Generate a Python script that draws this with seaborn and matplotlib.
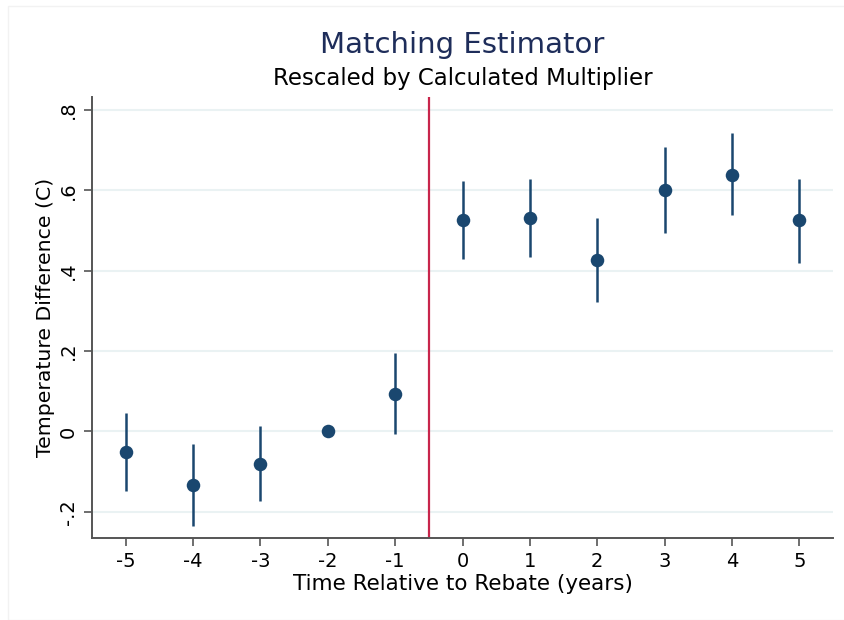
import numpy as np
import pandas as pd
import matplotlib
matplotlib.use("Agg")
import matplotlib.pyplot as plt
import seaborn as sns

# Event-time estimates with 95% confidence bounds
years = [-5, -4, -3, -2, -1, 0, 1, 2, 3, 4, 5]
estimate = [-0.052, -0.134, -0.080, 0.000, 0.092, 0.526, 0.531, 0.426, 0.600, 0.639, 0.525]
ci_low = [-0.147, -0.234, -0.174, np.nan, -0.007, 0.428, 0.435, 0.321, 0.493, 0.538, 0.420]
ci_high = [0.045, -0.032, 0.014, np.nan, 0.194, 0.623, 0.627, 0.530, 0.707, 0.742, 0.629]
y_ticks = [-0.2, 0.0, 0.2, 0.4, 0.6, 0.8]
y_tick_labels = ["-.2", "0", ".2", ".4", ".6", ".8"]

df = pd.DataFrame({"year": years, "est": estimate, "lo": ci_low, "hi": ci_high})

sns.set_theme(style="white")
plt.rcParams["font.family"] = ["DejaVu Sans"]

navy = "#1a476f"
fig = plt.figure(figsize=(8.44, 6.2), dpi=100)
fig.patch.set_facecolor("white")
ax = fig.add_axes([92 / 844, 1 - 538 / 620, (833 - 92) / 844, (538 - 97) / 620])

# Light grid at each y tick
for t in y_ticks:
    ax.axhline(t, color="#eaf2f3", lw=1.5, zorder=0)

# Confidence intervals
ci = df.dropna()
ax.vlines(ci["year"], ci["lo"], ci["hi"], color=navy, lw=1.8, zorder=2)

# Point estimates
sns.scatterplot(data=df, x="year", y="est", ax=ax, color=navy, s=95,
                edgecolor=navy, linewidth=0, zorder=3, legend=False)

# Treatment onset
ax.axvline(-0.5, color="#c8254b", lw=1.6, zorder=1)

ax.set_xlim(-5.5, 5.5)
ax.set_ylim(-0.265, 0.832)
ax.set_xticks(years)
ax.set_xticklabels([str(y) for y in years], fontsize=14)
ax.set_yticks(y_ticks)
ax.set_yticklabels(y_tick_labels, fontsize=14, rotation=90, va="center")

for side in ["top", "right"]:
    ax.spines[side].set_visible(False)
for side in ["left", "bottom"]:
    ax.spines[side].set_color("#555555")
    ax.spines[side].set_linewidth(1.4)
ax.tick_params(axis="both", direction="out", length=6, width=1.2, color="#555555",
               left=True, bottom=True, labelcolor="black")
ax.tick_params(axis="y", pad=4)
ax.tick_params(axis="x", pad=4)

ax.set_xlabel("Time Relative to Rebate (years)", fontsize=15.5, labelpad=2, color="black")
ax.set_ylabel("Temperature Difference (C)", fontsize=14.7, labelpad=3, color="black")

fig.text(0.548, 1 - 45 / 620, "Matching Estimator", ha="center", va="center",
         fontsize=21, color="#1e2d5a")
fig.text(0.548, 1 - 79 / 620, "Rescaled by Calculated Multiplier", ha="center",
         va="center", fontsize=16.5, color="black")

# Faint outer frame of the graph region
fig.patches.append(plt.Rectangle((8 / 844, 0.0), 1, 1 - 6 / 620, transform=fig.transFigure,
                                 fill=False, edgecolor="#f2f2f2", lw=1))

fig.savefig("out.png", dpi=100, facecolor="white")
